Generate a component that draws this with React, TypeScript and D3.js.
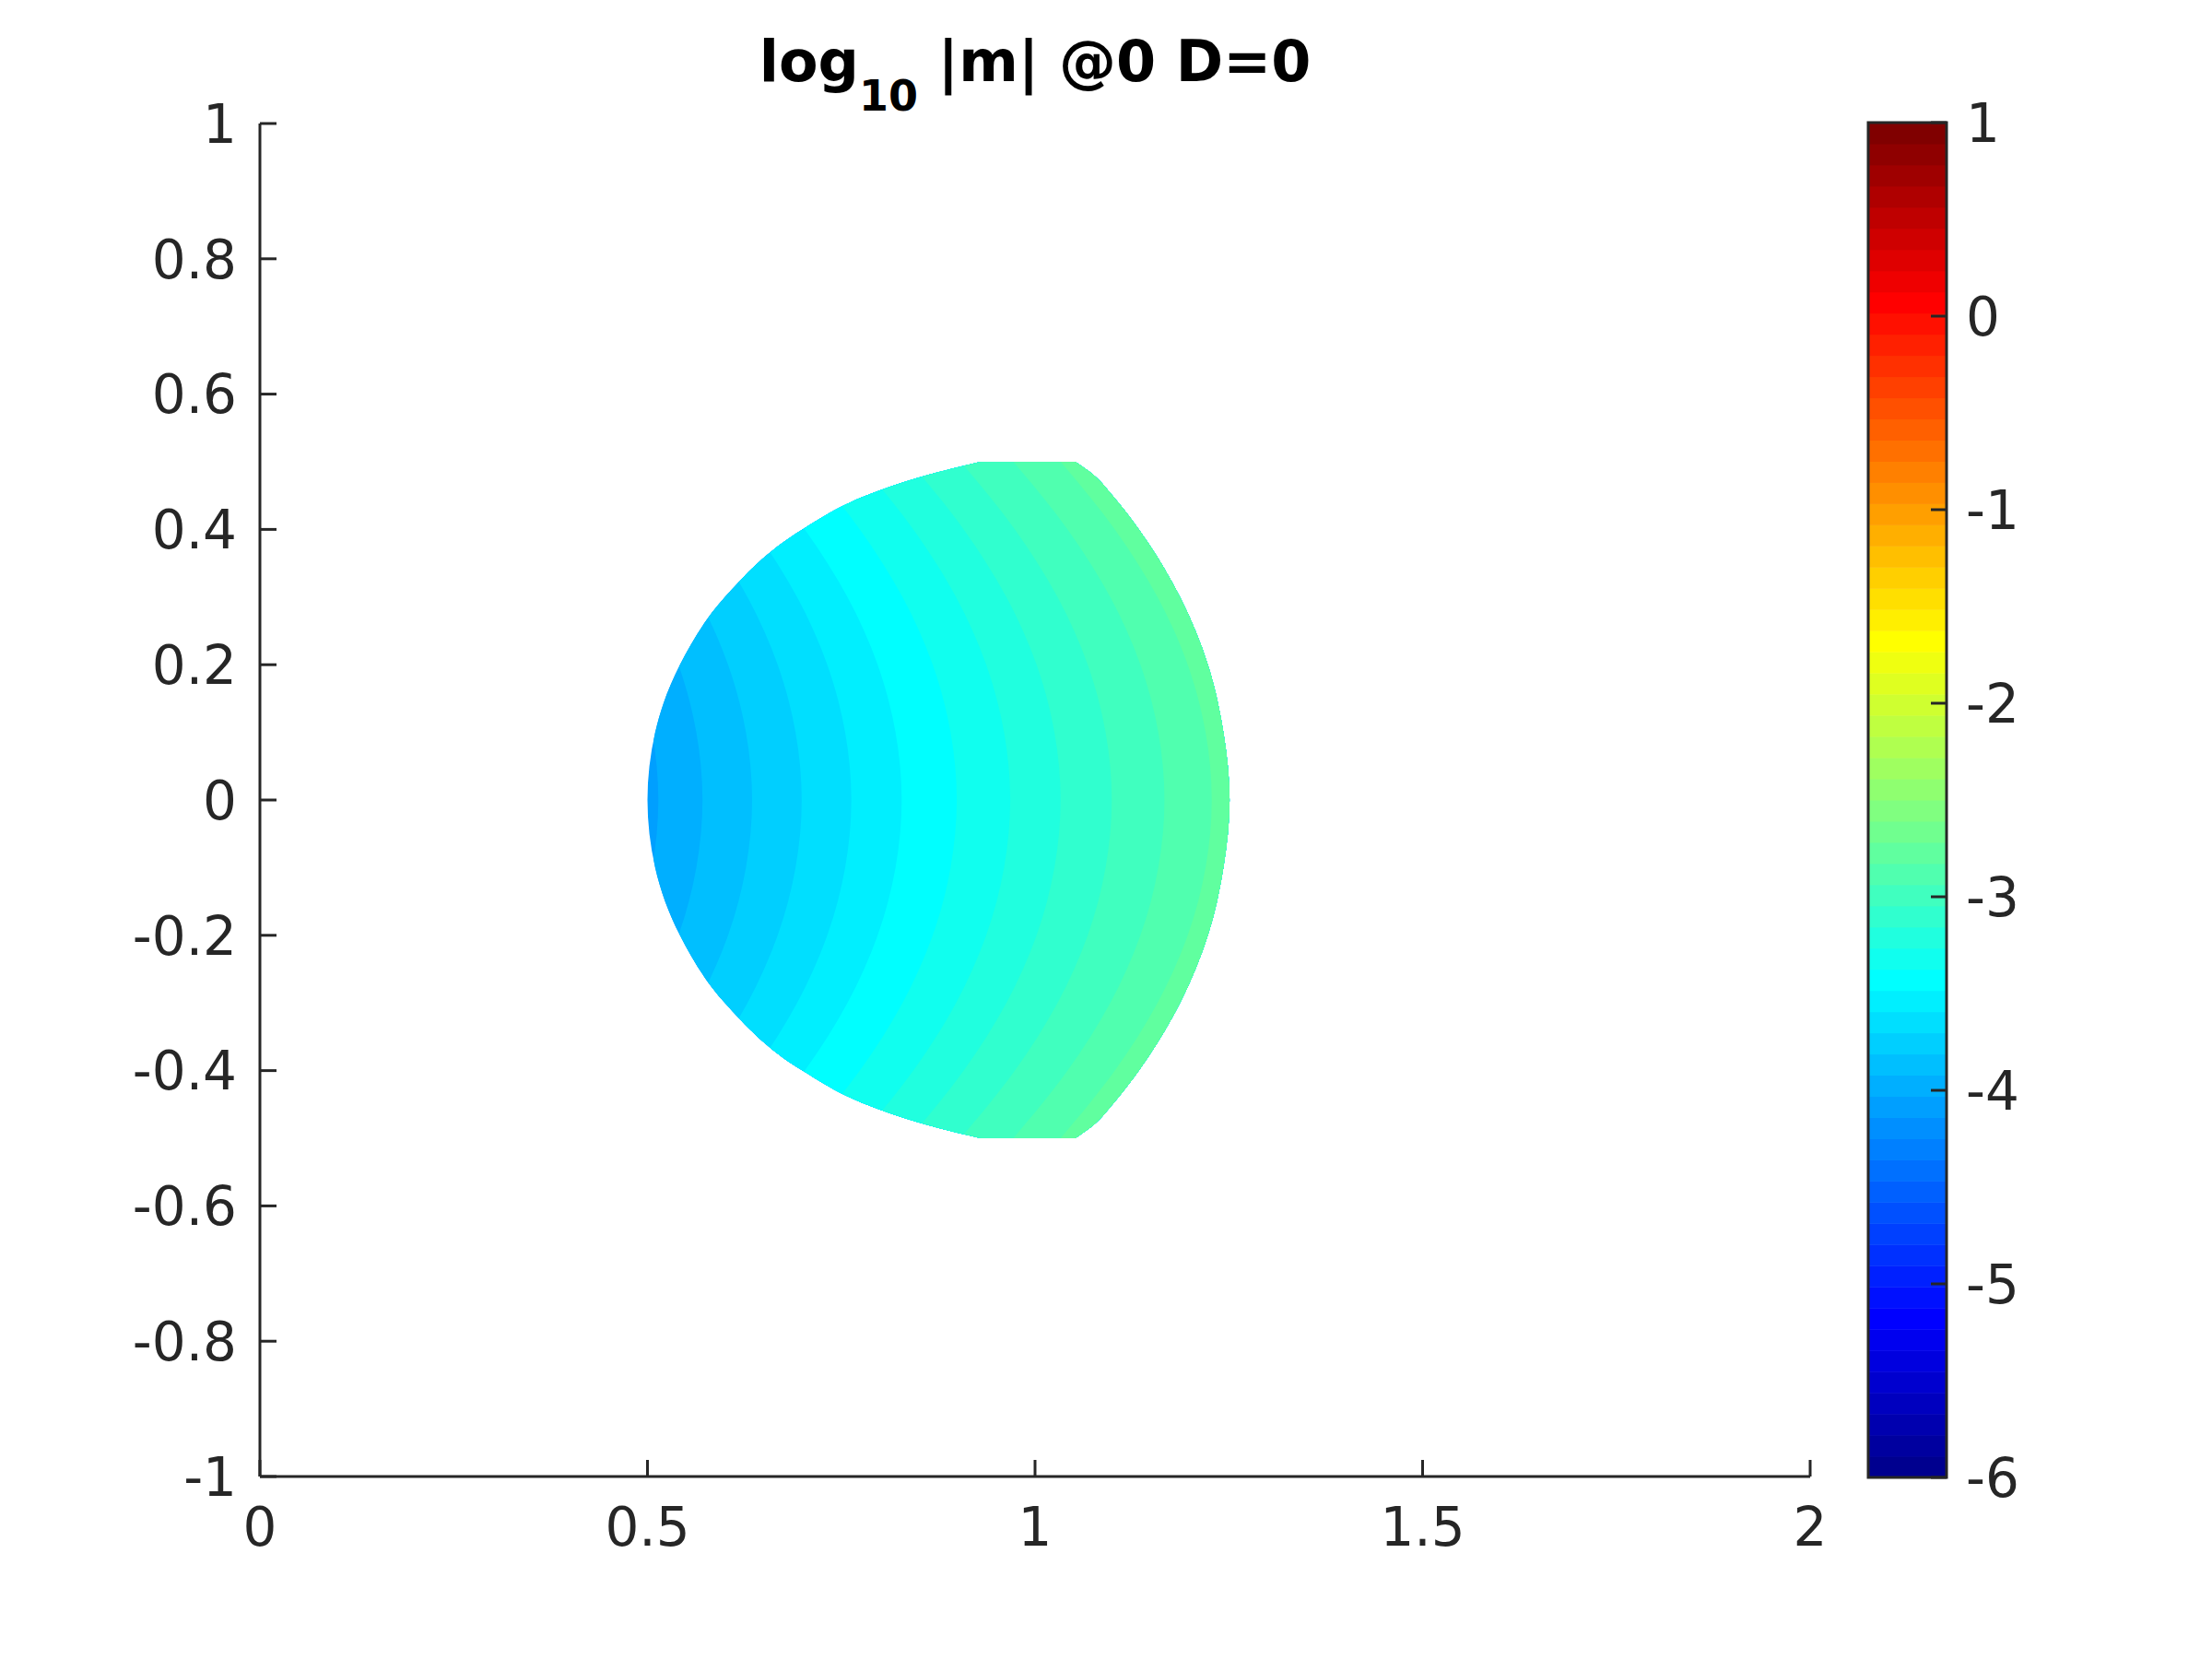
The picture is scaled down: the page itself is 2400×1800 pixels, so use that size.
import React, { useEffect, useRef } from 'react';
import * as d3 from 'd3';

// axis ticks
const xTicks = [0, 0.5, 1, 1.5, 2];
const yTicks = [-1, -0.8, -0.6, -0.4, -0.2, 0, 0.2, 0.4, 0.6, 0.8, 1];
const colorTicks = [1, 0, -1, -2, -3, -4, -5, -6];
const colorLimits = [-6, 1];

// outline of the computed region (upper half, mirrored below y=0)
const regionY = [0, 0.1, 0.2, 0.3, 0.4, 0.45, 0.48, 0.5];
const regionLeftX = [0.5, 0.51, 0.542, 0.6, 0.7, 0.782, 0.86, 0.93];
const regionRightX = [1.251, 1.243, 1.223, 1.187, 1.134, 1.1, 1.076, 1.052];

// log10|m| level in each colour band, left to right
const bandValues = [-4.09, -3.98, -3.87, -3.76, -3.65, -3.54, -3.43, -3.32, -3.21, -3.1, -2.99, -2.88, -2.77];
// where each band boundary crosses y=0
const bandEdgeX = [0.514, 0.571, 0.635, 0.699, 0.763, 0.828, 0.899, 0.968, 1.033, 1.099, 1.167, 1.228];
// how far the boundaries bend to the left as |y| grows
const contourY = [0, 0.1, 0.2, 0.3, 0.4, 0.5];
const contourShift = [0, 0.008, 0.031, 0.07, 0.125, 0.195];

// MATLAB jet(m)
const jet = (m: number) => {
  const n = Math.ceil(m / 4);
  const u: number[] = [];
  for (let i = 1; i <= n; i++) u.push(i / n);
  for (let i = 1; i < n; i++) u.push(1);
  for (let i = n; i >= 1; i--) u.push(i / n);
  const g0 = Math.ceil(n / 2) - (m % 4 === 1 ? 1 : 0);
  const at = (k: number) => (k >= 1 && k <= u.length ? u[k - 1] : 0);
  const out: string[] = [];
  for (let idx = 1; idx <= m; idx++) {
    const r = at(idx - g0 - n);
    const g = at(idx - g0);
    const b = at(idx - g0 + n);
    out.push(d3.rgb(r * 255, g * 255, b * 255).formatHex());
  }
  return out;
};

const App = () => {
  const ref = useRef<SVGSVGElement | null>(null);

  useEffect(() => {
    if (!ref.current) return;
    const svg = d3.select(ref.current);
    svg.selectAll('*').remove();

    const left = 282, right = 1964, top = 134, bottom = 1602;
    const x = d3.scaleLinear().domain([0, 2]).range([left, right]);
    const y = d3.scaleLinear().domain([-1, 1]).range([bottom, top]);
    const ink = '#262626';
    const font = 'DejaVu Sans';

    const colors = jet(64);
    const color = d3.scaleQuantize<string>().domain(colorLimits).range(colors);

    svg.append('rect').attr('width', 2400).attr('height', 1800).attr('fill', '#fff');

    // region clip
    const regionPts = regionY.map((v, i) => ({ y: v, l: regionLeftX[i], r: regionRightX[i] }));
    const regionAll = [...regionPts.slice(1).reverse().map(p => ({ ...p, y: -p.y })), ...regionPts];
    const regionArea = d3.area<any>()
      .curve(d3.curveMonotoneY)
      .y(d => y(d.y))
      .x0(d => x(d.l))
      .x1(d => x(d.r));

    const defs = svg.append('defs');
    defs.append('clipPath').attr('id', 'region')
      .append('path').attr('d', regionArea(regionAll));

    const field = svg.append('g').attr('clip-path', 'url(#region)');
    field.append('rect')
      .attr('x', x(0)).attr('y', y(1))
      .attr('width', x(2) - x(0)).attr('height', y(-1) - y(1))
      .attr('fill', color(bandValues[0]));

    const shiftPts = contourY.map((v, i) => ({ y: v, s: contourShift[i] }));
    const shiftAll = [...shiftPts.slice(1).reverse().map(p => ({ ...p, y: -p.y })), ...shiftPts];

    bandEdgeX.forEach((edge, j) => {
      const band = d3.area<any>()
        .curve(d3.curveMonotoneY)
        .y(d => y(d.y))
        .x0(d => x(edge - d.s))
        .x1(() => x(2));
      field.append('path')
        .attr('d', band(shiftAll))
        .attr('fill', color(bandValues[j + 1]));
    });

    // axes
    const axes = svg.append('g').attr('stroke', ink).attr('stroke-width', 3).attr('fill', 'none');
    axes.append('line').attr('x1', left).attr('x2', right).attr('y1', bottom).attr('y2', bottom);
    axes.append('line').attr('x1', left).attr('x2', left).attr('y1', bottom).attr('y2', top);
    xTicks.forEach(t => {
      axes.append('line').attr('x1', x(t)).attr('x2', x(t)).attr('y1', bottom).attr('y2', bottom - 18);
    });
    yTicks.forEach(t => {
      axes.append('line').attr('x1', left).attr('x2', left + 18).attr('y1', y(t)).attr('y2', y(t));
    });

    const labels = svg.append('g')
      .attr('font-family', font).attr('font-size', 58).attr('fill', ink);
    xTicks.forEach(t => {
      labels.append('text')
        .attr('x', x(t)).attr('y', bottom + 75)
        .attr('text-anchor', 'middle')
        .text(String(t));
    });
    yTicks.forEach(t => {
      labels.append('text')
        .attr('x', left - 25).attr('y', y(t))
        .attr('dy', '0.36em')
        .attr('text-anchor', 'end')
        .text(String(+t.toFixed(1)));
    });

    // colorbar
    const cbLeft = 2027, cbRight = 2112;
    const cy = d3.scaleLinear().domain(colorLimits).range([1603, 133]);
    const step = (colorLimits[1] - colorLimits[0]) / colors.length;
    colors.forEach((c, i) => {
      const v0 = colorLimits[0] + i * step;
      svg.append('rect')
        .attr('x', cbLeft).attr('y', cy(v0 + step))
        .attr('width', cbRight - cbLeft).attr('height', cy(v0) - cy(v0 + step) + 0.5)
        .attr('fill', c);
    });
    svg.append('rect')
      .attr('x', cbLeft).attr('y', cy(colorLimits[1]))
      .attr('width', cbRight - cbLeft).attr('height', cy(colorLimits[0]) - cy(colorLimits[1]))
      .attr('fill', 'none').attr('stroke', ink).attr('stroke-width', 3);
    colorTicks.forEach(t => {
      svg.append('line')
        .attr('x1', cbRight).attr('x2', cbRight - 17)
        .attr('y1', cy(t)).attr('y2', cy(t))
        .attr('stroke', ink).attr('stroke-width', 3);
      labels.append('text')
        .attr('x', cbRight + 21).attr('y', cy(t))
        .attr('dy', '0.36em')
        .text(String(t));
    });

    // title
    const title = svg.append('text')
      .attr('x', (left + right) / 2).attr('y', 88)
      .attr('text-anchor', 'middle')
      .attr('font-family', font).attr('font-weight', 'bold')
      .attr('font-size', 62).attr('fill', '#000')
      .style('white-space', 'pre');
    title.append('tspan').text('log');
    title.append('tspan').attr('font-size', 46).attr('dy', 32).text('10');
    title.append('tspan').attr('dy', -32).text(' |m| @0 D=0');
  }, []);

  return (
    <div style={{ position: 'absolute', left: 0, top: 0 }}>
      <svg ref={ref} width={2400} height={1800} style={{ display: 'block' }} />
    </div>
  );
};

export default App;
